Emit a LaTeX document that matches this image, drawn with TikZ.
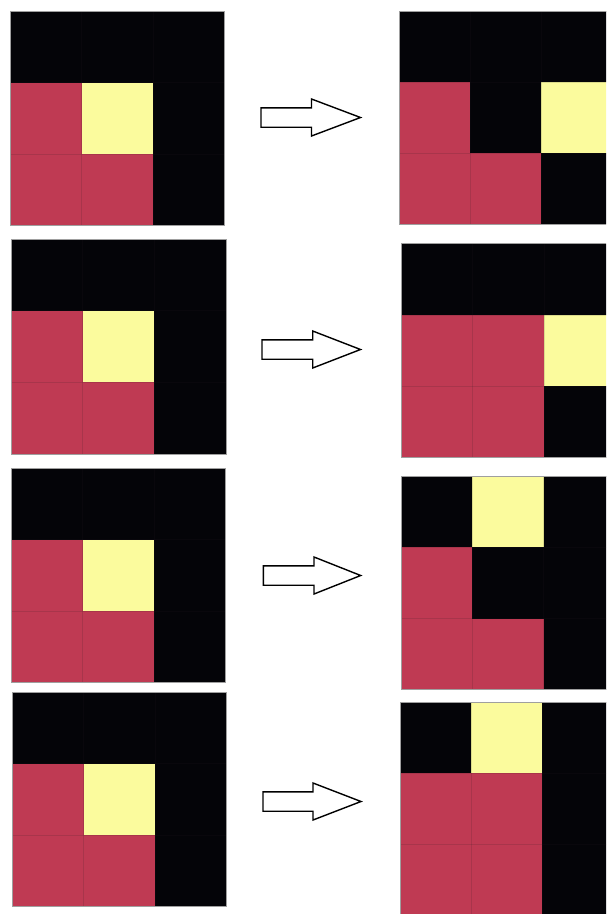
\documentclass[tikz,border=0pt]{standalone}
\definecolor{cR}{RGB}{191,58,83}
\definecolor{cY}{RGB}{251,251,157}
\definecolor{cK}{RGB}{4,4,8}
\definecolor{cLine}{RGB}{40,30,35}
\newcommand\mygrid[4]{%
  \foreach \c [count=\i from 0] in {#4} {
    \pgfmathtruncatemacro\cc{mod(\i,3)}
    \pgfmathtruncatemacro\rr{int(\i/3)}
    \fill[\c] ({#1+\cc*#3},{#2+\rr*#3}) rectangle ++(#3,#3);
  }
  \foreach \k in {1,2} {
    \draw[cLine,opacity=0.15,line width=0.6pt] ({#1+\k*#3},#2) -- ++(0,3*#3);
    \draw[cLine,opacity=0.15,line width=0.6pt] (#1,{#2+\k*#3}) -- ++(3*#3,0);
  }
  \draw[gray!75,line width=0.9pt] (#1,#2) rectangle ++(3*#3,3*#3);
}
\newcommand\myarrow[4]{% xL base tip yc
  \draw[black,line width=1.4pt,line join=miter,fill=white]
    (#1,#4-9.7) -- (#2,#4-9.7) -- (#2,#4-18.5) -- (#3,#4) -- (#2,#4+18.5)
    -- (#2,#4+9.7) -- (#1,#4+9.7) -- cycle;
}
\begin{document}
\begin{tikzpicture}[x=1pt,y=-1pt]
\useasboundingbox (0,0) rectangle (606,914);
\clip (0,0) rectangle (606,914);
\fill[white] (0,0) rectangle (606,914);
% left grids
\mygrid{10}{11}{71.5}{cK,cK,cK,cR,cY,cK,cR,cR,cK}
\mygrid{11}{239}{71.7}{cK,cK,cK,cR,cY,cK,cR,cR,cK}
\mygrid{11}{468}{71.5}{cK,cK,cK,cR,cY,cK,cR,cR,cK}
\mygrid{12}{692}{71.5}{cK,cK,cK,cR,cY,cK,cR,cR,cK}
% right grids
\mygrid{399}{11}{71}{cK,cK,cK,cR,cK,cY,cR,cR,cK}
\mygrid{401}{243.5}{71.4}{cK,cK,cK,cR,cR,cY,cR,cR,cK}
\mygrid{401}{476}{71.3}{cK,cY,cK,cR,cK,cK,cR,cR,cK}
\mygrid{400}{702}{71}{cK,cY,cK,cR,cR,cK,cR,cR,cK}
% arrows
\myarrow{261}{311.5}{360.5}{117.5}
\myarrow{262}{312.7}{360.5}{349.5}
\myarrow{263.3}{314}{360.7}{575.5}
\myarrow{263}{313}{361}{801.5}
\end{tikzpicture}
\end{document}
